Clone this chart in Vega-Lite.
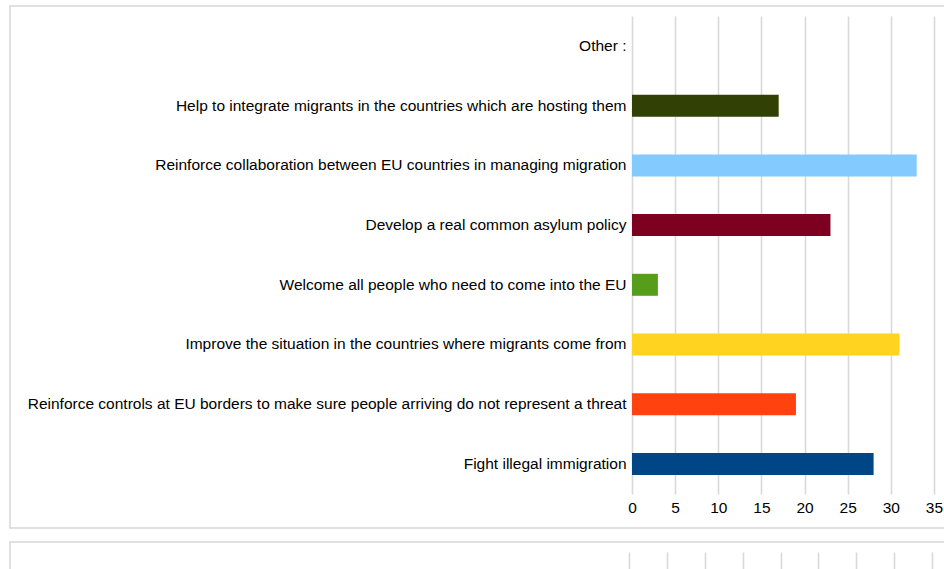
{
  "$schema": "https://vega.github.io/schema/vega-lite/v6.json",
  "padding": {"left": 9, "top": 5, "right": 0, "bottom": 0},
  "background": "white",
  "spacing": 12,
  "config": {
    "view": {"stroke": "#d6d6d6", "strokeWidth": 1.5},
    "font": "Liberation Sans",
    "axis": {"labelFont": "Liberation Sans", "labelFontSize": 15.5, "labelColor": "#000000", "title": null}
  },
  "vconcat": [
    {
      "width": 935,
      "height": 522,
      "data": {
        "values": [
          {"category": "Other :", "value": 0},
          {"category": "Help to integrate migrants in the countries which are hosting them", "value": 17},
          {"category": "Reinforce collaboration between EU countries in managing migration", "value": 33},
          {"category": "Develop a real common asylum policy", "value": 23},
          {"category": "Welcome all people who need to come into the EU", "value": 3},
          {"category": "Improve the situation in the countries where migrants come from", "value": 31},
          {"category": "Reinforce controls at EU borders to make sure people arriving do not represent a threat", "value": 19},
          {"category": "Fight illegal immigration", "value": 28}
        ]
      },
      "mark": {"type": "bar", "size": 22},
      "encoding": {
        "y": {
          "field": "category",
          "type": "nominal",
          "sort": null,
          "scale": {"paddingInner": 0, "paddingOuter": 0.372, "align": 0.2286},
          "axis": {
            "orient": "left",
            "offset": -622,
            "domain": false,
            "ticks": false,
            "labelPadding": 6,
            "labelLimit": 0
          }
        },
        "x": {
          "field": "value",
          "type": "quantitative",
          "scale": {"domain": [-72.086, 36.275], "nice": false, "zero": false},
          "axis": {
            "values": [0, 5, 10, 15, 20, 25, 30, 35],
            "orient": "bottom",
            "offset": -34,
            "domain": false,
            "grid": false,
            "ticks": true,
            "tickSize": -478,
            "tickColor": "#d9d9d9",
            "tickWidth": 1.6,
            "labelPadding": 484,
            "labelFlush": false
          }
        },
        "x2": {"datum": 0},
        "color": {
          "field": "category",
          "type": "nominal",
          "legend": null,
          "scale": {
            "domain": [
              "Fight illegal immigration",
              "Reinforce controls at EU borders to make sure people arriving do not represent a threat",
              "Improve the situation in the countries where migrants come from",
              "Welcome all people who need to come into the EU",
              "Develop a real common asylum policy",
              "Reinforce collaboration between EU countries in managing migration",
              "Help to integrate migrants in the countries which are hosting them",
              "Other :"
            ],
            "range": ["#004586", "#ff420e", "#ffd320", "#579d1c", "#7e0021", "#83caff", "#314004", "#aecf00"]
          }
        }
      }
    },
    {
      "width": 935,
      "height": 30,
      "data": {"values": []},
      "mark": "bar",
      "encoding": {
        "x": {
          "field": "value",
          "type": "quantitative",
          "scale": {"domain": [-81.66, 41.69], "nice": false, "zero": false},
          "axis": {
            "values": [0, 5, 10, 15, 20, 25, 30, 35, 40],
            "orient": "top",
            "offset": -10,
            "domain": false,
            "grid": false,
            "labels": false,
            "ticks": true,
            "tickSize": -40,
            "tickColor": "#d9d9d9",
            "tickWidth": 1.6
          }
        }
      }
    }
  ]
}
